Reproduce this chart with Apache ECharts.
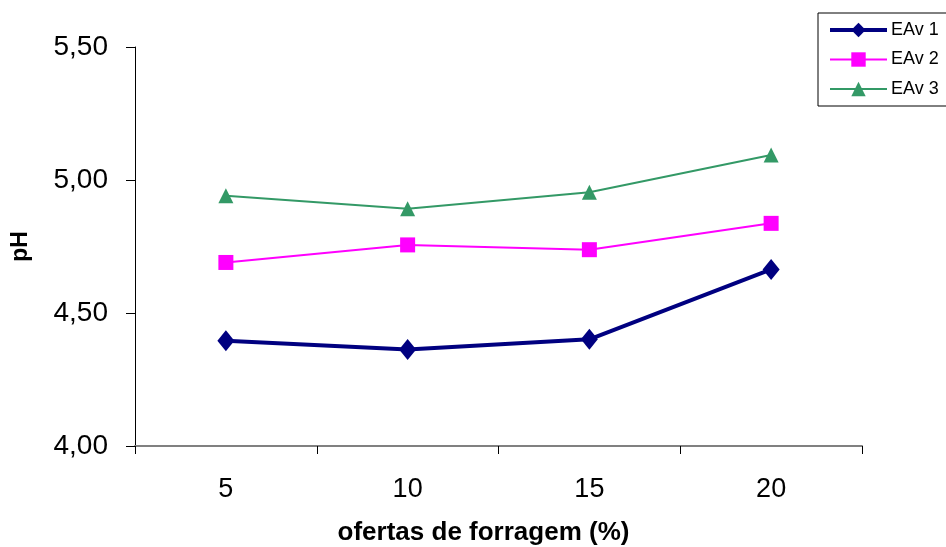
<!DOCTYPE html>
<html><head><meta charset="utf-8">
<script src="https://cdn.jsdelivr.net/npm/echarts@6/dist/echarts.min.js"></script>
<style>html,body{margin:0;padding:0;background:#fff}#c{width:946px;height:547px}</style>
</head><body><div id="c"></div>
<script>
const categories = ['5', '10', '15', '20'];
const eav1 = [4.396, 4.363, 4.401, 4.664];
const eav2 = [4.690, 4.756, 4.738, 4.837];
const eav3 = [4.941, 4.892, 4.954, 5.094];
const yTicks = ['4,00', '4,50', '5,00', '5,50'];

const FONT = 'Liberation Sans, Arial, sans-serif';
const chart = echarts.init(document.getElementById('c'));
chart.setOption({
  animation: false,
  backgroundColor: '#fff',
  grid: {left: 135, right: 84, top: 47, bottom: 101, containLabel: false, outerBoundsMode: 'none'},
  legend: {
    left: 818, top: 13, orient: 'vertical',
    padding: [8, 20, 8, 10],
    borderColor: '#000', borderWidth: 1,
    itemWidth: 57, itemHeight: 18, itemGap: 11.5,
    textStyle: {fontFamily: FONT, fontSize: 18, color: '#000', padding: [0, 0, 0, -1]},
    data: [
      {name: 'EAv 1', lineStyle: {width: 4}},
      {name: 'EAv 2', lineStyle: {width: 2}},
      {name: 'EAv 3', lineStyle: {width: 2}}
    ]
  },
  xAxis: {
    type: 'category', data: categories, boundaryGap: true,
    name: 'ofertas de forragem (%)', nameLocation: 'middle', nameGap: 74,
    nameTextStyle: {fontFamily: FONT, fontSize: 26, fontWeight: 'bold', color: '#000', padding: [0, 30, 0, 0]},
    axisLine: {lineStyle: {color: '#808080', width: 2}},
    axisTick: {show: true, interval: 0, length: 8, lineStyle: {color: '#000'}},
    axisLabel: {fontFamily: FONT, fontSize: 27, color: '#000', margin: 30}
  },
  yAxis: {
    type: 'value', min: 4.0, max: 5.5, interval: 0.5,
    name: 'pH', nameLocation: 'middle', nameGap: 103,
    nameTextStyle: {fontFamily: FONT, fontSize: 23, fontWeight: 'bold', color: '#000'},
    axisLine: {show: true, lineStyle: {color: '#000', width: 1}},
    axisTick: {show: true, length: 9, lineStyle: {color: '#000'}},
    splitLine: {show: false},
    axisLabel: {
      fontFamily: FONT, fontSize: 28, color: '#000', margin: 27,
      formatter: function (v) { return yTicks[Math.round((v - 4.0) / 0.5)]; }
    }
  },
  series: [
    {name: 'EAv 1', type: 'line', data: eav1, symbol: 'diamond', symbolSize: [17, 21],
     lineStyle: {color: '#000080', width: 4}, itemStyle: {color: '#000080'}},
    {name: 'EAv 2', type: 'line', data: eav2, symbol: 'rect', symbolSize: 15,
     lineStyle: {color: '#FF00FF', width: 2}, itemStyle: {color: '#FF00FF'}},
    {name: 'EAv 3', type: 'line', data: eav3, symbol: 'triangle', symbolSize: 15,
     lineStyle: {color: '#339966', width: 2}, itemStyle: {color: '#339966'}}
  ]
});
</script></body></html>
